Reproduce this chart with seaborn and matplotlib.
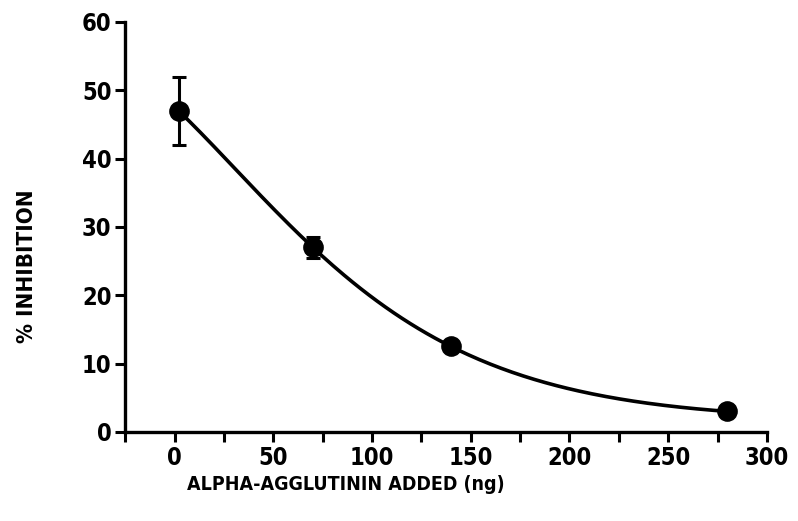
import numpy as np
import pandas as pd
import matplotlib
matplotlib.use("Agg")
import matplotlib.pyplot as plt
import seaborn as sns

# values
agglutinin_ng = [2, 70, 140, 280]
inhibition = [47, 27, 12.5, 3]
inhibition_err = [5, 1.5, 0, 0]

df = pd.DataFrame({"ng": agglutinin_ng, "inh": inhibition, "err": inhibition_err})

sns.set_style("ticks")
plt.rcParams["font.family"] = ["DejaVu Sans"]
plt.rcParams["font.stretch"] = "condensed"
plt.rcParams["text.color"] = "black"
plt.rcParams["axes.labelcolor"] = "black"
plt.rcParams["xtick.color"] = "black"
plt.rcParams["ytick.color"] = "black"

fig = plt.figure(figsize=(7.98, 5.21), dpi=100)
ax = fig.add_axes([0.157, 0.171, 0.804, 0.787])

# smooth decay curve: cubic fitted to log(% inhibition)
coef = np.polyfit(df["ng"], np.log(df["inh"]), 3)
curve = pd.DataFrame({"ng": np.linspace(df["ng"].min(), df["ng"].max(), 200)})
curve["inh"] = np.exp(np.polyval(coef, curve["ng"]))
sns.lineplot(data=curve, x="ng", y="inh", color="black", lw=2.6, ax=ax)

sns.scatterplot(data=df, x="ng", y="inh", color="black", s=190,
                edgecolor="black", zorder=5, ax=ax)
errs = df[df["err"] > 0]
ax.errorbar(errs["ng"], errs["inh"], yerr=errs["err"], fmt="none",
            ecolor="black", elinewidth=2.2, capsize=5, capthick=2.2, zorder=4)

ax.set_xlim(-23, 300)
ax.set_ylim(0, 60)
ax.set_xticks(np.arange(0, 301, 50))
ax.set_xticks(np.arange(-25, 301, 25), minor=True)
ax.set_yticks(np.arange(0, 61, 10))
sns.despine(ax=ax)
for s in ["left", "bottom"]:
    ax.spines[s].set_linewidth(2.4)
    ax.spines[s].set_color("black")
ax.tick_params(axis="both", which="both", direction="out", width=2.2,
               labelsize=17, length=7, pad=3)
for lab in ax.get_xticklabels() + ax.get_yticklabels():
    lab.set_fontweight("heavy")

ax.set_xlabel("ALPHA-AGGLUTININ ADDED (ng)", fontsize=14, fontweight="heavy")
ax.set_ylabel("% INHIBITION", fontsize=16, fontweight="heavy")
ax.xaxis.set_label_coords(0.343, -0.106)
ax.yaxis.set_label_coords(-0.137, 0.405)

fig.savefig("out.png", dpi=100)
